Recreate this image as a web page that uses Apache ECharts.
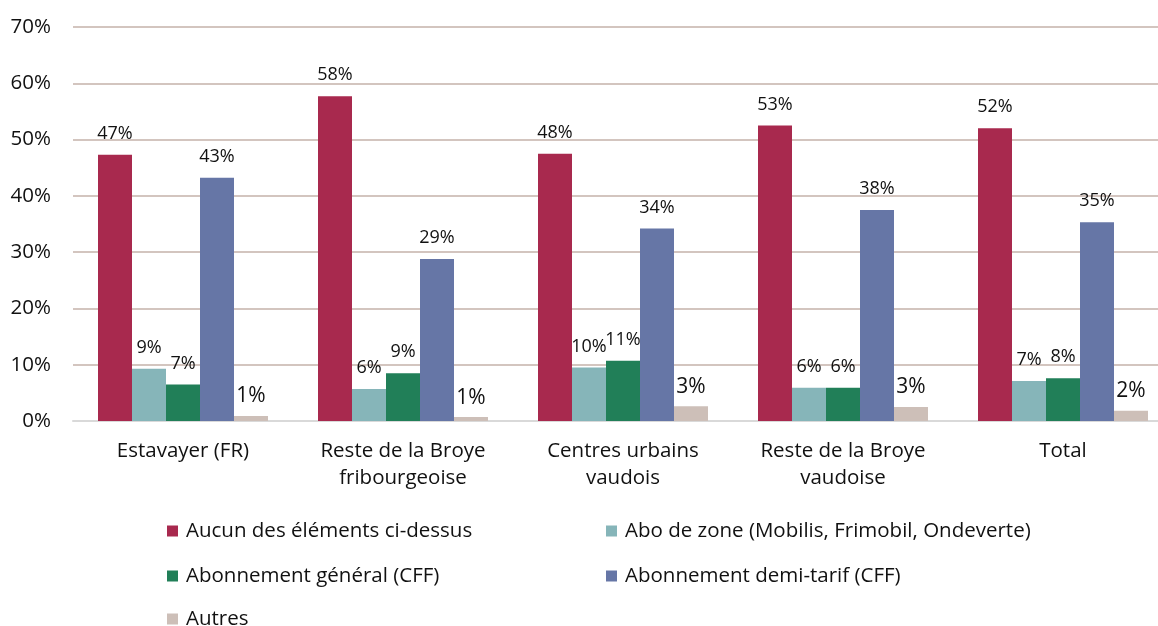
<!DOCTYPE html>
<html>
<head>
<meta charset="utf-8">
<script src="https://cdn.jsdelivr.net/npm/echarts@6/dist/echarts.min.js"></script>
<style>
    html, body { margin: 0; padding: 0; background: #fff; }
    #chart { width: 1158px; height: 626px; }
</style>
</head>
<body>
<div id="chart"></div>
<script>
    // categories and series (values in %)
    var categories = ['Estavayer (FR)', 'Reste de la Broye\nfribourgeoise', 'Centres urbains\nvaudois', 'Reste de la Broye\nvaudoise', 'Total'];
    var seriesNames = ['Aucun des éléments ci-dessus', 'Abo de zone (Mobilis, Frimobil, Ondeverte)', 'Abonnement général (CFF)', 'Abonnement demi-tarif (CFF)', 'Autres'];
    var aucun = [47.3, 57.7, 47.5, 52.5, 52.0];
    var aboZone = [9.3, 5.7, 9.5, 5.9, 7.1];
    var general = [6.5, 8.5, 10.7, 5.9, 7.6];
    var demiTarif = [43.2, 28.8, 34.2, 37.5, 35.3];
    var autres = [0.9, 0.7, 2.6, 2.5, 1.8];
    var colors = ['#A8294E', '#86B5B9', '#217F58', '#6676A6', '#CDBFB8'];
    var yTicks = [0, 10, 20, 30, 40, 50, 60, 70];

    var font = '"Open Sans", "Noto Sans", sans-serif';

    function makeSeries(name, data, color, big) {
        return {
            name: name,
            type: 'bar',
            data: data,
            barWidth: 34,
            barGap: 0,
            itemStyle: { color: color },
            label: {
                show: true,
                position: 'top',
                distance: big ? 9 : 12,
                color: '#111',
                fontFamily: font,
                fontSize: big ? 21 : 18,
                formatter: function (p) { return Math.round(p.value) + '%'; }
            }
        };
    }

    // one legend block per entry, laid out in two columns
    function makeLegend(name, left, top) {
        return {
            left: left,
            top: top,
            padding: 0,
            icon: 'rect',
            itemWidth: 11,
            itemHeight: 11,
            textStyle: { fontSize: 20.5, lineHeight: 22, color: '#111', fontFamily: font, padding: [0, 0, 0, 3] },
            data: [name]
        };
    }

    var myChart = echarts.init(document.getElementById('chart'));
    myChart.setOption({
        animation: false,
        color: colors,
        textStyle: { fontFamily: font },
        grid: {
            left: 73,
            top: 27,
            width: 1100,
            height: 394,
            outerBoundsMode: 'none'
        },
        legend: [
            makeLegend(seriesNames[0], 167, 520),
            makeLegend(seriesNames[1], 606, 520),
            makeLegend(seriesNames[2], 167, 565),
            makeLegend(seriesNames[3], 606, 565),
            makeLegend(seriesNames[4], 167, 608)
        ],
        xAxis: {
            type: 'category',
            data: categories,
            axisTick: { show: false },
            axisLine: { lineStyle: { color: '#D9D9D9', width: 2 } },
            axisLabel: {
                margin: 17,
                color: '#111',
                fontSize: 20.5,
                lineHeight: 27,
                fontFamily: font
            }
        },
        yAxis: {
            type: 'value',
            min: yTicks[0],
            max: yTicks[yTicks.length - 1],
            interval: 10,
            axisLine: { show: false },
            axisTick: { show: false },
            splitLine: { lineStyle: { color: '#D3C5BF', width: 2 } },
            axisLabel: {
                margin: 22,
                color: '#111',
                fontSize: 20.5,
                fontFamily: font,
                formatter: '{value}%'
            }
        },
        series: [
            makeSeries(seriesNames[0], aucun, colors[0]),
            makeSeries(seriesNames[1], aboZone, colors[1]),
            makeSeries(seriesNames[2], general, colors[2]),
            makeSeries(seriesNames[3], demiTarif, colors[3]),
            makeSeries(seriesNames[4], autres, colors[4], true)
        ]
    });
</script>
</body>
</html>
